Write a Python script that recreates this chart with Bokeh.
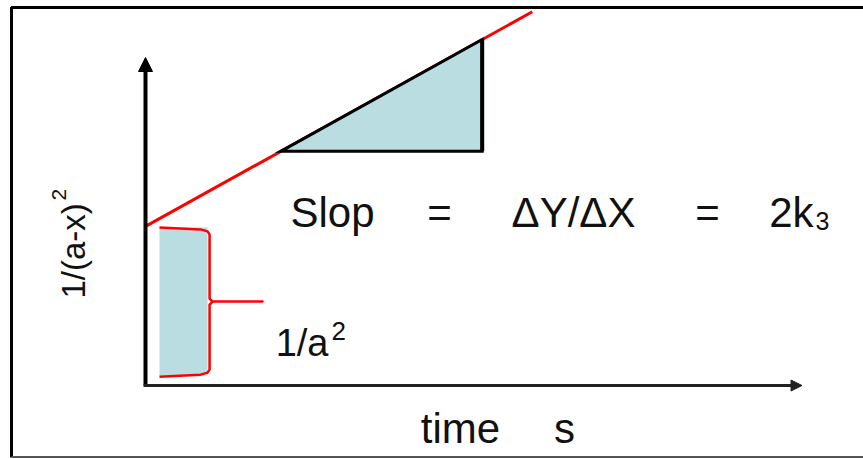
import numpy as np
from bokeh.plotting import figure
from bokeh.models import Range1d, Arrow, NormalHead
from bokeh.core.properties import value
from bokeh.embed import file_html
from bokeh.resources import INLINE

# Second-order kinetics: 1/(a-x)^2 = 1/a^2 + 2*k3*t
intercept = 4.85          # 1/a^2 (value at t = 0)
slope = 1.1               # 2*k3
t_line = [0.0, 5.95]      # extent of the fitted line
t_tri = [2.08, 5.18]      # run of the slope triangle
bar_t = [0.215, 0.955]    # horizontal extent of the 1/a^2 bar
bar_bottom = 0.30
x_axis_end = 10.1
y_axis_end = 10.0

# canvas geometry: origin of the diagram and pixels per unit
W, H = 863, 459
X0_PX, Y0_PX = 145, 385
SX, SY = 65.0, 32.8


def X(px):
    return (px - X0_PX) / SX


def Y(py):
    return (Y0_PX - py) / SY


p = figure(width=W, height=H,
           x_range=Range1d(X(0), X(W)), y_range=Range1d(Y(H), Y(0)),
           x_axis_type=None, y_axis_type=None,
           output_backend="svg", toolbar_location=None, min_border=0)
p.grid.visible = False
p.outline_line_color = None
p.background_fill_color = "white"
p.border_fill_color = "white"

# frame around the diagram
p.line([X(900), X(11), X(11)], [Y(7), Y(7), Y(457)], line_color="black", line_width=3)
p.line([X(11), X(900)], [Y(456.5), Y(456.5)], line_color="#555555", line_width=2)

# axes with arrow heads
p.add_layout(Arrow(x_start=0, y_start=0, x_end=0, y_end=y_axis_end,
                   line_width=4, line_color="black",
                   end=NormalHead(size=14, fill_color="black", line_color="black", line_width=1)))
p.add_layout(Arrow(x_start=-0.03, y_start=0, x_end=x_axis_end, y_end=0,
                   line_width=3, line_color="#222222",
                   end=NormalHead(size=11, fill_color="#222222", line_color="#222222", line_width=1)))

# fitted straight line
t_arr = np.array(t_line)
p.line(t_arr, intercept + slope * t_arr, line_color="#ff0000", line_width=3)

# slope triangle
t1, t2 = t_tri
y1, y2 = intercept + slope * t1, intercept + slope * t2
p.patch([t1, t2, t2], [y1, y2, y1], fill_color="#b9dde1",
        line_color="black", line_width=3, line_join="miter")
p.line([t2, t2], [y1, y2], line_color="black", line_width=4)

# intercept bar 1/a^2
p.quad(left=bar_t[0], right=bar_t[1], bottom=bar_bottom, top=intercept - 0.03,
       fill_color="#b9dde1", line_color=None)

# curly brace next to the bar
top = intercept - 0.03
bot = bar_bottom
mid = (top + bot) / 2
bx = bar_t[1] + 2.0 / SX
dx = 1.0 / SX
dy = 1.0 / SY
brace_x = [bar_t[0], bar_t[1] - 7 * dx, bar_t[1], bx,
           bx, bx + 3 * dx, X(262), bx + 3 * dx, bx,
           bx, bar_t[1], bar_t[1] - 7 * dx, bar_t[0]]
brace_y = [top, top - 2 * dy, top - 4 * dy, top - 7 * dy,
           mid + 3 * dy, mid, mid, mid, mid - 3 * dy,
           bot + 6 * dy, bot + 3 * dy, bot + 1 * dy, bot - 1 * dy]
p.line(brace_x, brace_y, line_color="#ff0000", line_width=2.5, line_join="round")

FONT = value("Liberation Sans")
INK = "#111111"


def label(x, y, text, size, align="center", angle=0.0):
    p.text(x=[x], y=[y], text=[text], text_font=FONT, text_font_size=value(f"{size}px"),
           text_color=INK, text_align=align, text_baseline="alphabetic", angle=angle)


# slope annotation
label(X(332), Y(212), "Slop", 42)
label(X(439), Y(212), "=", 42)
label(X(573), Y(212), "ΔY/ΔX", 42)
label(X(707), Y(212), "=", 42)
label(X(813), Y(212), "2k", 42, align="right")
label(X(815), Y(220), "3", 25, align="left")

# intercept annotation
label(X(328), Y(342), "1/a", 38, align="right")
label(X(331), Y(330), "2", 26, align="left")

# axis titles
label(X(460), Y(428), "time", 42)
label(X(564), Y(428), "s", 42)
label(X(73), Y(298), "1/(a-x)", 33, align="left", angle=np.pi / 2)
label(X(58), Y(200), "2", 21, align="left", angle=np.pi / 2)

open("out.html", "w").write(file_html(p, INLINE))
